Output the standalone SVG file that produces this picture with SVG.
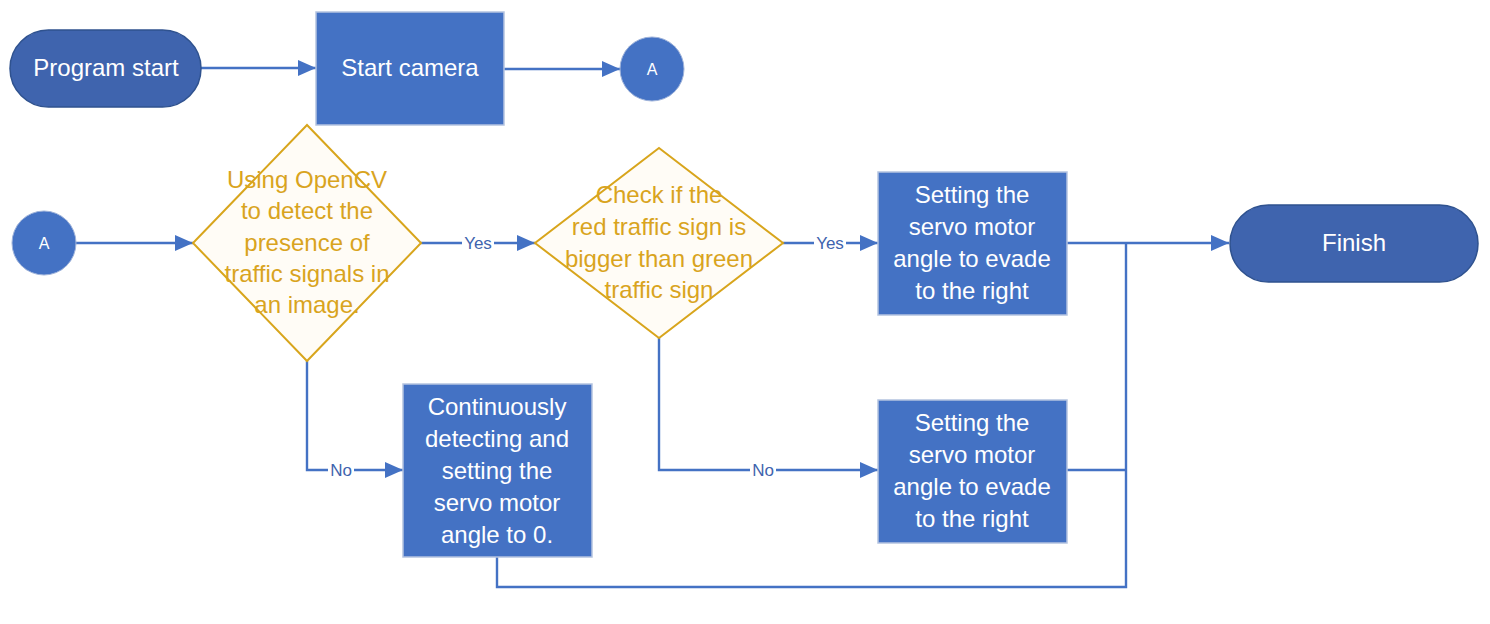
<svg xmlns="http://www.w3.org/2000/svg" width="1490" height="624" viewBox="0 0 1490 624">
<defs>
<style>
.term{fill:#3f64ae;stroke:#2f528f;stroke-width:1.5}
.box{fill:#4472c4;stroke:#b4c3e0;stroke-width:1.5}
.circ{fill:#4472c4;stroke:#9fb3da;stroke-width:1}
.dia{fill:#fffcf6;stroke:#d8a51c;stroke-width:2}
.wt{font-family:"Liberation Sans",Arial,sans-serif;font-size:24px;fill:#ffffff;text-anchor:middle}
.gt{font-family:"Liberation Sans",Arial,sans-serif;font-size:24px;fill:#d9a41e;text-anchor:middle}
.ct{font-family:"Liberation Sans",Arial,sans-serif;font-size:16px;fill:#ffffff;text-anchor:middle}
.lbl{font-family:"Liberation Sans",Arial,sans-serif;font-size:17px;fill:#3f64ae;text-anchor:middle}
.ln{fill:none;stroke:#4472c4;stroke-width:2.4}
</style>
<marker id="ah" viewBox="0 0 18 16" refX="18" refY="8" markerWidth="18" markerHeight="16" markerUnits="userSpaceOnUse" orient="auto">
<path d="M0,0 L18,8 L0,16 Z" fill="#4472c4"/>
</marker>
</defs>
<g id="connectors">
<line class="ln" x1="201" y1="68" x2="316" y2="68" marker-end="url(#ah)"/>
<line class="ln" x1="504" y1="69" x2="620" y2="69" marker-end="url(#ah)"/>
<line class="ln" x1="76" y1="243" x2="193" y2="243" marker-end="url(#ah)"/>
<line class="ln" x1="421" y1="243" x2="535" y2="243" marker-end="url(#ah)"/>
<line class="ln" x1="783" y1="243" x2="878" y2="243" marker-end="url(#ah)"/>
<line class="ln" x1="1067" y1="243" x2="1229" y2="243" marker-end="url(#ah)"/>
<polyline class="ln" points="307,361 307,470 403,470" marker-end="url(#ah)"/>
<polyline class="ln" points="659,338 659,470 878,470" marker-end="url(#ah)"/>
<polyline class="ln" points="1067,470 1126,470"/>
<polyline class="ln" points="497,557 497,587 1126,587 1126,243"/>
<rect x="462" y="233" width="32" height="20" fill="#ffffff"/>
<text class="lbl" x="478" y="249">Yes</text>
<rect x="814" y="233" width="32" height="20" fill="#ffffff"/>
<text class="lbl" x="830" y="249">Yes</text>
<rect x="328" y="460" width="26" height="20" fill="#ffffff"/>
<text class="lbl" x="341" y="476">No</text>
<rect x="750" y="460" width="26" height="20" fill="#ffffff"/>
<text class="lbl" x="763" y="476">No</text>
</g>
<g id="program-start">
<rect class="term" x="10" y="30" width="191" height="77" rx="38.5"/>
<text class="wt" x="106" y="76">Program start</text>
</g>
<g id="start-camera">
<rect class="box" x="316" y="12" width="188" height="113"/>
<text class="wt" x="410" y="76">Start camera</text>
</g>
<g id="connector-a1">
<ellipse class="circ" cx="652" cy="69" rx="32" ry="32"/>
<text class="ct" x="652" y="75">A</text>
</g>
<g id="connector-a2">
<ellipse class="circ" cx="44" cy="243" rx="32" ry="32"/>
<text class="ct" x="44" y="249">A</text>
</g>
<g id="detect">
<polygon class="dia" points="307,125 421,243 307,361 193,243"/>
<text class="gt" x="307" y="188">Using OpenCV</text>
<text class="gt" x="307" y="219">to detect the</text>
<text class="gt" x="307" y="251">presence of</text>
<text class="gt" x="307" y="282">traffic signals in</text>
<text class="gt" x="307" y="313">an image.</text>
</g>
<g id="check">
<polygon class="dia" points="659,148 783,243 659,338 535,243"/>
<text class="gt" x="659" y="203">Check if the</text>
<text class="gt" x="659" y="235">red traffic sign is</text>
<text class="gt" x="659" y="267">bigger than green</text>
<text class="gt" x="659" y="298">traffic sign</text>
</g>
<g id="evade-yes">
<rect class="box" x="878" y="172" width="189" height="143"/>
<text class="wt" x="972" y="203">Setting the</text>
<text class="wt" x="972" y="235">servo motor</text>
<text class="wt" x="972" y="267">angle to evade</text>
<text class="wt" x="972" y="299">to the right</text>
</g>
<g id="continuous">
<rect class="box" x="403" y="384" width="189" height="173"/>
<text class="wt" x="497" y="415">Continuously</text>
<text class="wt" x="497" y="447">detecting and</text>
<text class="wt" x="497" y="479">setting the</text>
<text class="wt" x="497" y="511">servo motor</text>
<text class="wt" x="497" y="543">angle to 0.</text>
</g>
<g id="evade-no">
<rect class="box" x="878" y="400" width="189" height="143"/>
<text class="wt" x="972" y="431">Setting the</text>
<text class="wt" x="972" y="463">servo motor</text>
<text class="wt" x="972" y="495">angle to evade</text>
<text class="wt" x="972" y="527">to the right</text>
</g>
<g id="finish">
<rect class="term" x="1230" y="205" width="248" height="77" rx="38.5"/>
<text class="wt" x="1354" y="251">Finish</text>
</g>
</svg>
